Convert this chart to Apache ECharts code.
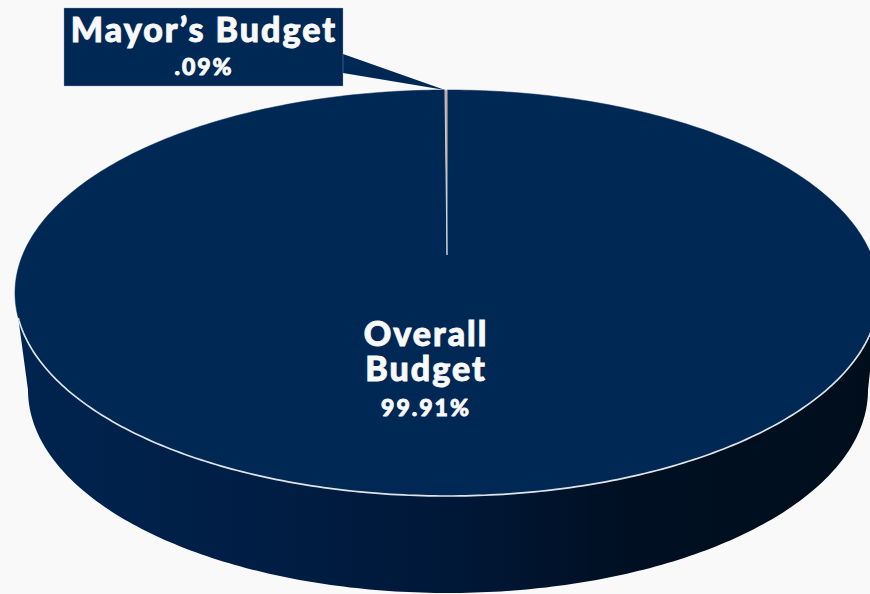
<!DOCTYPE html>
<html><head><meta charset="utf-8">
<style>
html,body{margin:0;padding:0;background:#f9f9f9;overflow:hidden}
#c{width:870px;height:594px}
#c text{letter-spacing:2px}
</style>
<script src="https://cdn.jsdelivr.net/npm/echarts@6/dist/echarts.min.js"></script>
</head><body><div id="c"></div>
<script>
const categories = ['Overall Budget', 'Mayor’s Budget'];
const titleLines = ['Overall\nBudget', 'Mayor’s Budget'];
const budgetShares = [99.91, 0.09];
const shareLabels = ['99.91%', '.09%'];
const sliceColors = ['#002855', '#c9785c'];

const total = budgetShares.reduce((a, b) => a + b, 0);
// Perspective disc: apex is where the slices meet in the picture
const AX = 447, AY = 255, K = 0.187, A = 424.4, B = 195.9;
function rim(theta) {
  const u = Math.sin(theta), v = Math.cos(theta), w = 1 + K * v;
  return [AX + A * u / w, AY - B * v / w];
}
const ECX = 447, ECY = 293, ERX = 432, ERY = 203;
const BCX = 448, BCY = 390, BRX = 420, BRY = 203;
function front(cx, cy, rx, ry, from, to) {
  const pts = [];
  for (let i = 0; i <= 200; i++) {
    const t = from + (to - from) * i / 200;
    pts.push([cx + rx * Math.cos(t), cy + ry * Math.sin(t)]);
  }
  return pts;
}
function sector(startAngle, endAngle) {
  const pts = [[AX, AY]], n = Math.max(2, Math.ceil((endAngle - startAngle) * 60));
  for (let i = 0; i <= n; i++) pts.push(rim(startAngle + (endAngle - startAngle) * i / n));
  return pts;
}
function label(text, x, y, font, lineHeight) {
  return { type: 'text', style: { text, x, y, align: 'center', verticalAlign: 'middle', fill: '#f9f9f9',
    stroke: '#f9f9f9', lineWidth: 0.9, font, lineHeight } };
}
const BIG = '900 34px Lato', SMALL = '900 23px Lato';
const wallStart = Math.asin(25 / ERY);
function renderSlice(params, api) {
  const idx = params.dataIndex;
  const before = budgetShares.slice(0, idx).reduce((a, b) => a + b, 0);
  const a0 = before / total * Math.PI * 2;
  const a1 = (before + api.value(0)) / total * Math.PI * 2;
  const kids = [];
  if (idx === 0) {
    const top = front(ECX, ECY, ERX, ERY, wallStart, Math.PI - wallStart);
    const bottom = front(BCX, BCY, BRX, BRY, Math.PI, 0);
    kids.push({ type: 'polygon', shape: { points: top.concat(bottom) }, style: {
      fill: { type: 'linear', x: 0, y: 0, x2: 1, y2: 0, colorStops: [
        { offset: 0, color: '#00244f' }, { offset: 0.22, color: '#001f47' },
        { offset: 0.5, color: '#001838' }, { offset: 0.72, color: '#000f22' },
        { offset: 1, color: '#000e1c' }] }, stroke: null } });
    kids.push({ type: 'polygon', shape: { points: sector(a0, a1) },
      style: { fill: sliceColors[0], stroke: sliceColors[0], lineWidth: 0.5 } });
    kids.push({ type: 'polyline', shape: { points: top },
      style: { fill: null, stroke: '#dfe4e8', lineWidth: 1.7 } });
    kids.push(label(titleLines[0], 426, 350, BIG, 35));
    kids.push(label(shareLabels[0], 426, 407, SMALL, 26));
  } else {
    kids.push({ type: 'polygon', shape: { points: sector(a0, a1) },
      style: { fill: sliceColors[1], stroke: '#e6e9ee', lineWidth: 0.8 } });
    const tip = rim((a0 + a1) / 2);
    kids.push({ type: 'polygon', shape: { points: [[343, 54], [tip[0] - 1, tip[1]], [343, 73]] },
      style: { fill: sliceColors[0], stroke: null } });
    kids.push({ type: 'rect', shape: { x: 64, y: 8, width: 279, height: 78 },
      style: { fill: sliceColors[0], stroke: '#8fa3b8', lineWidth: 0.4 } });
    kids.push(label(titleLines[1], 204, 28, BIG, 36));
    kids.push(label(shareLabels[1], 204, 66, SMALL, 26));
  }
  return { type: 'group', children: kids };
}
const chart = echarts.init(document.getElementById('c'), null, { renderer: 'svg', width: 870, height: 594 });
chart.setOption({
  animation: false,
  backgroundColor: '#f9f9f9',
  series: [{
    type: 'custom',
    name: 'Budget',
    coordinateSystem: 'none',
    silent: true,
    renderItem: renderSlice,
    data: budgetShares.map((v, i) => ({ name: categories[i], value: [v] }))
  }]
});
</script></body></html>
